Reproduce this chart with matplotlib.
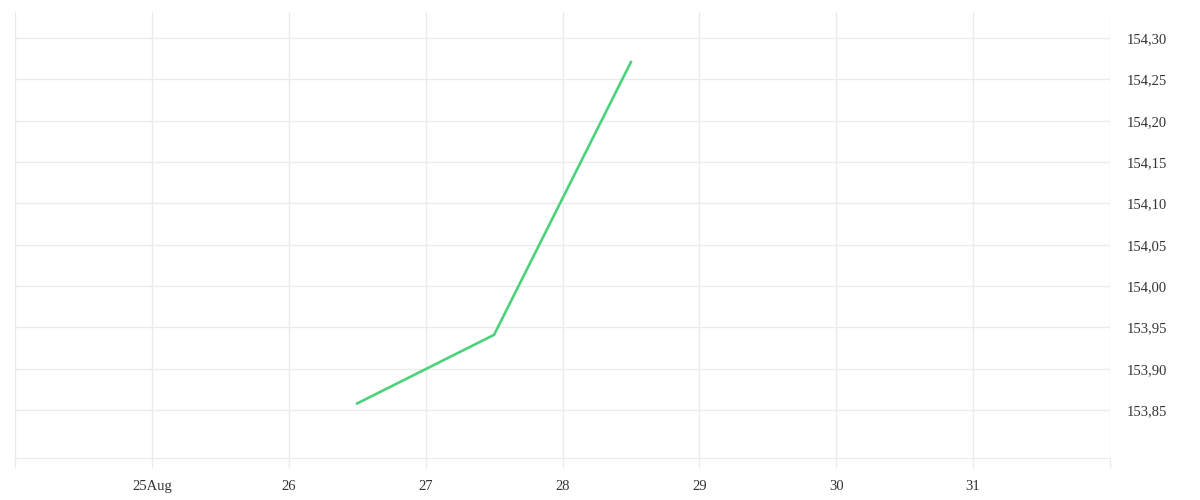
import matplotlib
matplotlib.use("Agg")
import matplotlib.pyplot as plt
from datetime import datetime

# --- data ---
times = [datetime(2024, 8, 26, 12), datetime(2024, 8, 27, 12), datetime(2024, 8, 28, 12)]
values = [153.858, 153.941, 154.271]

x_ticks = [datetime(2024, 8, d) for d in range(24, 32)] + [datetime(2024, 9, 1)]
x_labels = ["", "25Aug", "26", "27", "28", "29", "30", "31", ""]
y_ticks = [153.85, 153.90, 153.95, 154.00, 154.05, 154.10, 154.15, 154.20, 154.25, 154.30]

grid_col = "#ebebeb"
text_col = "#333333"
line_col = "#4cd27a"

plt.rcParams["font.family"] = ["Liberation Serif", "DejaVu Serif"]

fig = plt.figure(figsize=(12, 5), dpi=100)
ax = fig.add_axes([0.0125, 0.084, 0.9125, 0.892])

ax.plot(times, values, color=line_col, linewidth=1.9, solid_joinstyle="miter")

ax.set_xlim(x_ticks[0], x_ticks[-1])
ax.set_ylim(153.792, 154.3315)

ax.set_xticks(x_ticks)
ax.set_xticklabels(x_labels)
ax.set_yticks(y_ticks)
ax.set_yticklabels([f"{v:.2f}".replace(".", ",") for v in y_ticks])

ax.yaxis.tick_right()
ax.tick_params(axis="y", length=0, pad=12, labelsize=10.5, labelcolor=text_col)
ax.tick_params(axis="x", length=7.5, width=1, color=grid_col, pad=8,
               labelsize=10.5, labelcolor=text_col)

ax.grid(True, color=grid_col, linewidth=1)
ax.set_axisbelow(True)
for side in ["top", "left", "right"]:
    ax.spines[side].set_visible(False)
ax.spines["bottom"].set_color(grid_col)

fig.savefig("out.png", dpi=100)
